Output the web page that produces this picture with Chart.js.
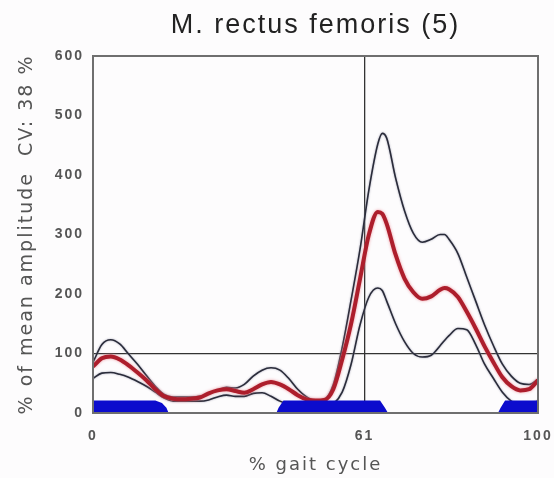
<!DOCTYPE html>
<html>
<head>
<meta charset="utf-8">
<script src="https://cdn.jsdelivr.net/npm/chart.js@4.4.1/dist/chart.umd.min.js"></script>
<style>
  html, body { margin: 0; padding: 0; background: #fdfcfd; }
  #c { display: block; }
</style>
</head>
<body>
<canvas id="c" width="554" height="478"></canvas>
<script>
// ---- data ----
const chartTitle = 'M. rectus femoris (5)';
const yTitle = '% of mean amplitude  CV: 38 %';
const xTitle = '% gait cycle';

const gaitX = [0,2,4,6,8,10,12,14,16,18,20,22,24,26,28,30,32,34,36,38,40,42,44,46,48,50,52,54,56,58,60,62,64,65,66,68,70,72,74,76,78,79,80,82,84,86,88,90,92,94,96,98,100];
const meanAmp = [78,92,95,90,80,68,55,40,28,24,23,24,26,33,38,40,37,34,40,48,52,48,40,30,23,21,22,40,90,150,225,300,338,335,318,266,226,203,192,196,207,210,208,195,170,142,112,85,60,45,38,40,55];
const upperAmp = [85,115,123,116,99,82,63,45,31,27,27,27,28,32,38,43,42,48,62,72,76,72,58,40,27,21,23,48,110,190,275,375,452,470,462,395,340,302,287,292,300,300,292,268,228,188,148,113,82,62,50,48,57];
const lowerAmp = [58,67,68,65,60,53,45,35,25,20,20,20,20,22,27,30,28,28,33,34,28,20,14,8,5,5,8,15,35,82,148,195,210,206,188,150,120,100,94,97,113,122,130,142,140,115,82,58,35,20,14,14,20];

const stanceX = [0,14,15.5,16.5,17,41.2,41.7,42.8,64.5,65.6,66.3,91,91.6,92.6,100];
const stanceY = [21,21,17,9,0,0,9,21,21,9,0,0,9,21,21];

const xTicks = [0,61,100];
const yTicks = [0,100,200,300,400,500,600];
const refX = 61;
const refY = 100;

// ---- helpers ----
const pts = (xs, ys) => xs.map((x, i) => ({x: x, y: ys[i]}));

const spacingPlugin = {
  id: 'spacing',
  afterInit(chart) { chart.ctx.letterSpacing = '2px'; },
  beforeUpdate(chart) { chart.ctx.letterSpacing = '2px'; },
  beforeDraw(chart) { chart.ctx.letterSpacing = '2px'; }
};

const haloPlugin = {
  id: 'halo',
  beforeDatasetDraw(chart, args) {
    const ds = chart.data.datasets[args.index];
    if (ds.halo) {
      const ctx = chart.ctx;
      ctx.save();
      ctx.shadowColor = ds.halo;
      ctx.shadowBlur = ds.haloBlur || 3;
    }
  },
  afterDatasetDraw(chart, args) {
    const ds = chart.data.datasets[args.index];
    if (ds.halo) chart.ctx.restore();
  }
};

const framePlugin = {
  id: 'frame',
  afterDatasetsDraw(chart) {
    const {ctx, chartArea: a} = chart;
    ctx.save();
    ctx.strokeStyle = '#6f6f6f';
    ctx.lineWidth = 2;
    ctx.strokeRect(a.left, a.top, a.right - a.left, a.bottom - a.top);
    ctx.restore();
  }
};

new Chart(document.getElementById('c'), {
  type: 'line',
  data: {
    datasets: [
      {
        label: 'stance',
        data: pts(stanceX, stanceY),
        borderWidth: 0,
        borderColor: 'rgba(0,0,0,0)',
        backgroundColor: 'rgb(12,12,205)',
        fill: 'origin',
        tension: 0,
        pointRadius: 0,
        order: 0
      },
      {
        label: 'upper',
        data: pts(gaitX, upperAmp),
        borderColor: '#2a2c3a',
        borderWidth: 1.6,
        fill: false,
        cubicInterpolationMode: 'monotone',
        pointRadius: 0,
        halo: 'rgba(150,150,170,0.9)',
        haloBlur: 2,
        order: 2
      },
      {
        label: 'lower',
        data: pts(gaitX, lowerAmp),
        borderColor: '#2a2c3a',
        borderWidth: 1.6,
        fill: false,
        cubicInterpolationMode: 'monotone',
        pointRadius: 0,
        halo: 'rgba(150,150,170,0.9)',
        haloBlur: 2,
        order: 2
      },
      {
        label: 'mean',
        data: pts(gaitX, meanAmp),
        borderColor: '#ad1e2c',
        borderWidth: 4,
        fill: false,
        cubicInterpolationMode: 'monotone',
        pointRadius: 0,
        halo: 'rgba(235,140,150,0.9)',
        haloBlur: 3,
        order: 1
      }
    ]
  },
  options: {
    responsive: false,
    devicePixelRatio: 1,
    animation: false,
    layout: { padding: { left: 0, right: 16, top: 0, bottom: 0 } },
    plugins: {
      legend: { display: false },
      tooltip: { enabled: false },
      title: {
        display: true,
        text: chartTitle,
        fullSize: false,
        color: '#222',
        font: { family: 'Liberation Sans', size: 27, weight: 'normal' },
        padding: { top: 9, bottom: 14.6 }
      }
    },
    scales: {
      x: {
        type: 'linear',
        min: 0,
        max: 100,
        afterBuildTicks: s => { s.ticks = xTicks.map(v => ({value: v})); },
        afterFit: s => { s.height = 65; s.paddingLeft = 0; s.paddingRight = 0; },
        ticks: {
          autoSkip: false,
          maxRotation: 0,
          padding: 15,
          color: '#555',
          font: { family: 'Liberation Sans', size: 14, weight: 'bold' }
        },
        grid: {
          drawTicks: false,
          lineWidth: 1.3,
          color: c => (c.tick && c.tick.value === refX) ? '#333' : 'rgba(0,0,0,0)'
        },
        border: { display: false },
        title: {
          display: true,
          text: xTitle,
          color: '#555',
          font: { family: 'DejaVu Sans', size: 18 },
          padding: { top: 0, bottom: 2 }
        }
      },
      y: {
        type: 'linear',
        min: 0,
        max: 600,
        afterBuildTicks: s => { s.ticks = yTicks.map(v => ({value: v})); },
        afterFit: s => { s.width = 93; s.paddingTop = 0; s.paddingBottom = 0; },
        ticks: {
          padding: 9,
          color: '#555',
          font: { family: 'Liberation Sans', size: 14, weight: 'bold' }
        },
        grid: {
          drawTicks: false,
          lineWidth: 1.3,
          color: c => (c.tick && c.tick.value === refY) ? '#333' : 'rgba(0,0,0,0)'
        },
        border: { display: false },
        title: {
          display: true,
          text: yTitle,
          color: '#555',
          font: { family: 'DejaVu Sans', size: 19 },
          padding: { top: 16, bottom: 0 }
        }
      }
    }
  },
  plugins: [spacingPlugin, haloPlugin, framePlugin]
});
</script>
</body>
</html>
